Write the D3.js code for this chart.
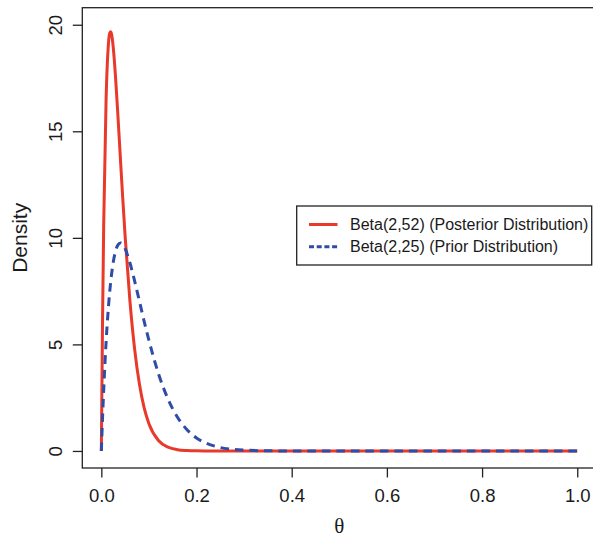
<!DOCTYPE html>
<html>
<head>
<meta charset="utf-8">
<script src="https://cdn.jsdelivr.net/npm/d3@7"></script>
<style>
html, body { margin: 0; padding: 0; background: #fff; }
svg { display: block; }
text { font-family: "Liberation Sans", Arial, Helvetica, sans-serif; fill: #1a1a1a; }
</style>
</head>
<body>
<svg id="chart" width="593" height="538"></svg>
<script>
// ---- data ----
const theta = [0, 0.0025, 0.005, 0.01, 0.015, 0.0175, 0.02, 0.0225, 0.025, 0.03, 0.035, 0.04, 0.045, 0.05, 0.06, 0.07, 0.08, 0.09, 0.10, 0.12, 0.14, 0.16, 0.18, 0.20, 0.22, 0.25, 0.28, 0.30, 0.35, 0.40, 0.50, 0.60, 0.70, 0.80, 0.90, 1.00];
const posterior = [0, 6.06, 10.67, 16.51, 19.13, 19.60, 19.67, 19.43, 18.94, 17.49, 15.67, 13.75, 11.85, 10.07, 7.05, 4.77, 3.14, 2.02, 1.28, 0.49, 0.18, 0.06, 0.02, 0.006, 0.002, 0, 0, 0, 0, 0, 0, 0, 0, 0, 0, 0];
const prior = [0, 1.53, 2.88, 5.11, 6.78, 7.45, 8.01, 8.47, 8.85, 9.39, 9.67, 9.76, 9.69, 9.49, 8.83, 7.97, 7.03, 6.08, 5.19, 3.63, 2.44, 1.58, 1.00, 0.61, 0.37, 0.16, 0.07, 0.04, 0.007, 0.001, 0, 0, 0, 0, 0, 0];
const xTicks = [0, 0.2, 0.4, 0.6, 0.8, 1.0];
const yTicks = [0, 5, 10, 15, 20];
const seriesNames = ["Beta(2,52) (Posterior Distribution)", "Beta(2,25) (Prior Distribution)"];
const xLabel = "θ";
const yLabel = "Density";

const RED = "#e8392a";
const BLUE = "#2f4ca6";

const svg = d3.select("#chart");

const x = d3.scaleLinear().domain([-0.04, 1.04]).range([82.3, 596.3]);
const y = d3.scaleLinear().domain([-0.8, 20.8]).range([468, 7.7]);

// plot box
svg.append("rect")
  .attr("x", x(-0.04)).attr("y", y(20.8))
  .attr("width", x(1.04) - x(-0.04)).attr("height", y(-0.8) - y(20.8))
  .attr("fill", "none").attr("stroke", "#222").attr("stroke-width", 1.3);

// x axis
const xAxis = d3.axisBottom(x).tickValues(xTicks).tickSize(9.5).tickPadding(11)
  .tickFormat(d3.format(".1f"));
const gx = svg.append("g").attr("transform", `translate(0,${y(-0.8)})`).call(xAxis);
gx.select(".domain").remove();
gx.selectAll(".tick line").attr("stroke", "#222").attr("stroke-width", 1.3);
gx.selectAll(".tick text").attr("font-size", 18.5).attr("fill", "#1a1a1a")
  .attr("font-family", "'Liberation Sans', Arial, sans-serif");

// y axis
const yAxis = d3.axisLeft(y).tickValues(yTicks).tickSize(9.5).tickFormat(d3.format("d"));
const gy = svg.append("g").attr("transform", `translate(${x(-0.04)},0)`).call(yAxis);
gy.select(".domain").remove();
gy.selectAll(".tick line").attr("stroke", "#222").attr("stroke-width", 1.3);
gy.selectAll(".tick text")
  .attr("font-size", 18.5).attr("fill", "#1a1a1a")
  .attr("font-family", "'Liberation Sans', Arial, sans-serif")
  .attr("x", null).attr("dy", null)
  .attr("text-anchor", "middle")
  .attr("transform", "translate(-20.6,0) rotate(-90)");

// axis titles
svg.append("text")
  .attr("x", (x(0) + x(1)) / 2).attr("y", 532.5)
  .attr("text-anchor", "middle")
  .style("font-family", "'Liberation Serif', 'DejaVu Serif', serif")
  .attr("font-size", 21)
  .text(xLabel);

svg.append("text")
  .attr("transform", `translate(26.7,${(y(-0.8) + y(20.8)) / 2}) rotate(-90)`)
  .attr("text-anchor", "middle")
  .attr("font-size", 21)
  .text(yLabel);

// curves
const line = (vals) => d3.line()
  .x((d, i) => x(theta[i]))
  .y(d => y(d))
  .curve(d3.curveMonotoneX)(vals);

svg.append("path")
  .attr("d", line(posterior))
  .attr("fill", "none").attr("stroke", RED).attr("stroke-width", 3)
  .attr("stroke-linejoin", "round");

svg.append("path")
  .attr("d", line(prior))
  .attr("fill", "none").attr("stroke", BLUE).attr("stroke-width", 3)
  .attr("stroke-dasharray", "8.5,6");

// legend
const lg = svg.append("g");
lg.append("rect")
  .attr("x", 296.7).attr("y", 206).attr("width", 295).attr("height", 59)
  .attr("fill", "#fff").attr("stroke", "#222").attr("stroke-width", 1.3);
const rows = [
  { name: seriesNames[0], color: RED, dash: null, ly: 224.5, ty: 229.5 },
  { name: seriesNames[1], color: BLUE, dash: "5,2.7", ly: 246.8, ty: 252 }
];
rows.forEach(r => {
  const l = lg.append("line")
    .attr("x1", 309).attr("x2", 337.5).attr("y1", r.ly).attr("y2", r.ly)
    .attr("stroke", r.color).attr("stroke-width", 3);
  if (r.dash) l.attr("stroke-dasharray", r.dash);
  lg.append("text").attr("x", 350).attr("y", r.ty)
    .attr("font-size", 16).text(r.name);
});
</script>
</body>
</html>
